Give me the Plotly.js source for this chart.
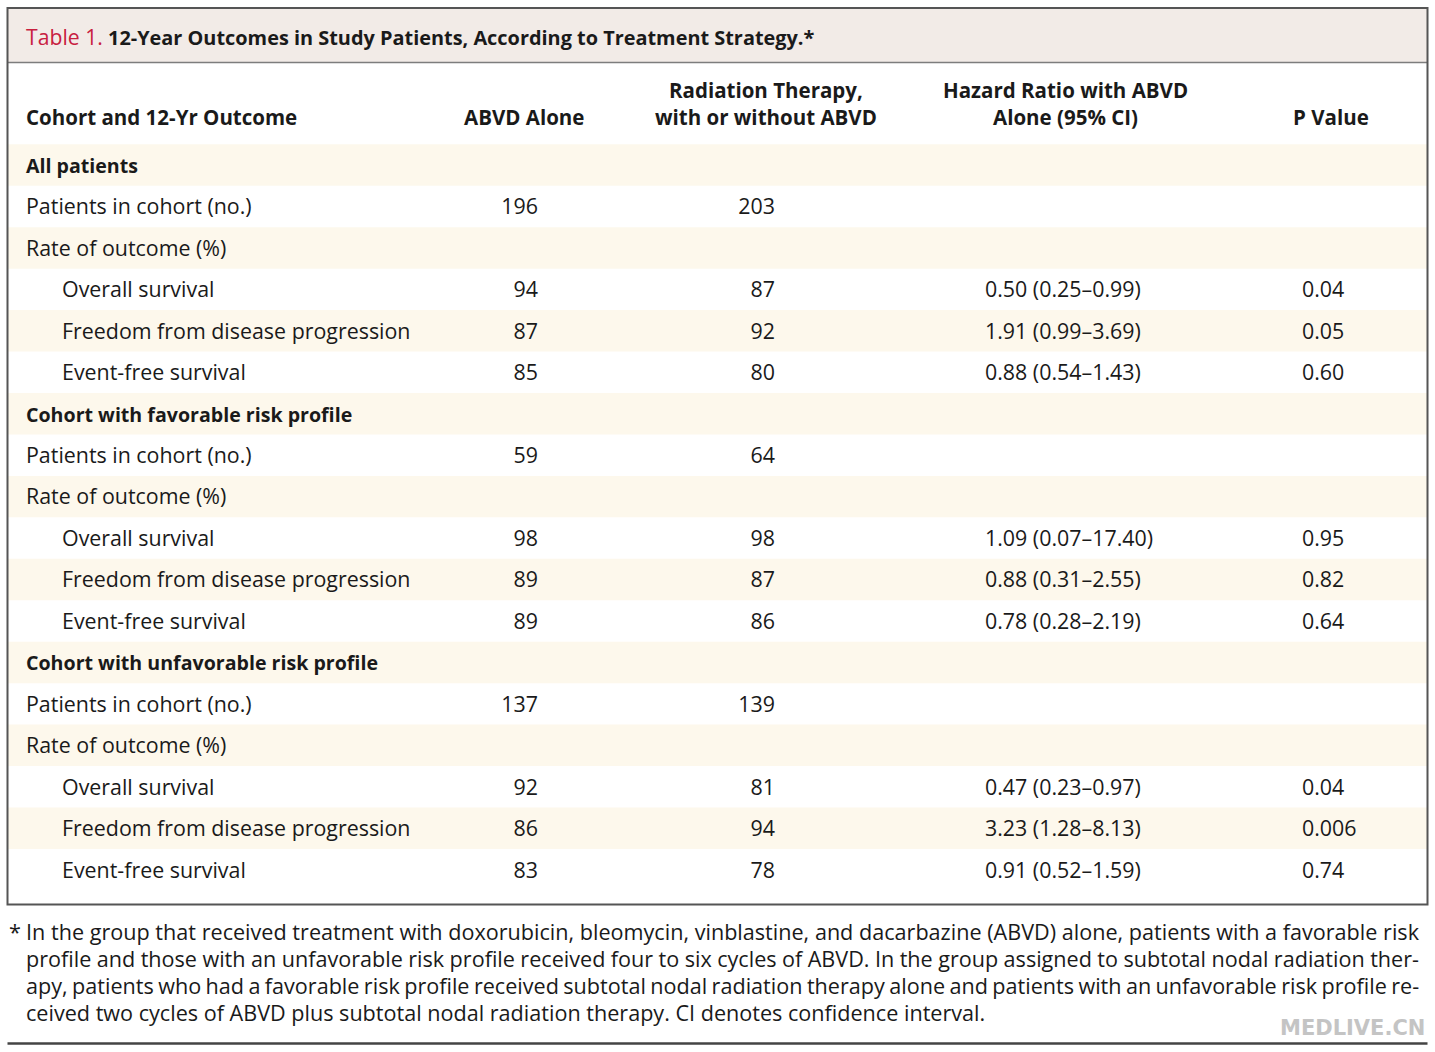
<!DOCTYPE html>
<html>
<head>
<meta charset="utf-8">
<script src="https://cdn.plot.ly/plotly-3.0.1.min.js"></script>
<style>
  html, body { margin: 0; padding: 0; background: #ffffff; }
  #chart { width: 1435px; height: 1052px; }
</style>
</head>
<body>
<div id="chart"></div>
<script>
// ---------------- DATA ----------------
const tableTitleLabel = "Table 1.";
const tableTitleText = "12-Year Outcomes in Study Patients, According to Treatment Strategy.*";

const columnHeaders = [
  "Cohort and 12-Yr Outcome",
  "ABVD Alone",
  "Radiation Therapy,<br>with or without ABVD",
  "Hazard Ratio with ABVD<br>Alone (95% CI)",
  "P Value"
];

const rowLabels = [
  "All patients",
  "Patients in cohort (no.)",
  "Rate of outcome (%)",
  "Overall survival",
  "Freedom from disease progression",
  "Event-free survival",
  "Cohort with favorable risk profile",
  "Patients in cohort (no.)",
  "Rate of outcome (%)",
  "Overall survival",
  "Freedom from disease progression",
  "Event-free survival",
  "Cohort with unfavorable risk profile",
  "Patients in cohort (no.)",
  "Rate of outcome (%)",
  "Overall survival",
  "Freedom from disease progression",
  "Event-free survival"
];
// 0 = cohort heading (bold), 1 = sub-heading, 2 = indented outcome
const rowLevels = [0, 1, 1, 2, 2, 2, 0, 1, 1, 2, 2, 2, 0, 1, 1, 2, 2, 2];

const abvdAlone = [null, 196, null, 94, 87, 85, null, 59, null, 98, 89, 89, null, 137, null, 92, 86, 83];
const radiationTherapy = [null, 203, null, 87, 92, 80, null, 64, null, 98, 87, 86, null, 139, null, 81, 94, 78];
const hazardRatio = ["", "", "", "0.50 (0.25–0.99)", "1.91 (0.99–3.69)", "0.88 (0.54–1.43)",
                     "", "", "", "1.09 (0.07–17.40)", "0.88 (0.31–2.55)", "0.78 (0.28–2.19)",
                     "", "", "", "0.47 (0.23–0.97)", "3.23 (1.28–8.13)", "0.91 (0.52–1.59)"];
const pValue = ["", "", "", "0.04", "0.05", "0.60",
                "", "", "", "0.95", "0.82", "0.64",
                "", "", "", "0.04", "0.006", "0.74"];

const footnoteMark = "*";
const footnoteLines = [
  "In the group that received treatment with doxorubicin, bleomycin, vinblastine, and dacarbazine (ABVD) alone, patients with a favorable risk",
  "profile and those with an unfavorable risk profile received four to six cycles of ABVD. In the group assigned to subtotal nodal radiation ther-",
  "apy, patients who had a favorable risk profile received subtotal nodal radiation therapy alone and patients with an unfavorable risk profile re-",
  "ceived two cycles of ABVD plus subtotal nodal radiation therapy. CI denotes confidence interval."
];
const watermark = "MEDLIVE.CN";

// ---------------- LAYOUT CONSTANTS ----------------
const W = 1435, H = 1052;
const FONT = "'Open Sans', 'DejaVu Sans', sans-serif";
const bodySize = 21.4, groupSize = 19.6, headSize = 20.5, titleSize = 19.9, titleLabelSize = 21.2, footSize = 21.6;
const INK = "#1a1a1a";
const STRIPE = "#fdf8ec";
const TITLE_BG = "#f2ebe7";
const TITLE_RED = "#c8203f";

const boxLeft = 7.5, boxRight = 1427.5, boxTop = 8, boxBottom = 904.5;
const titleBottom = 62.5;
const rowTop = 144.3, rowH = 41.45;
const labelX = [26, 26, 62];            // per level
const abvdRightX = 538, radRightX = 775, hrLeftX = 985, pLeftX = 1302;
const headX = [26, 523.5, 765.5, 1065.5, 1330.5];
const textNudge = 2.5 / rowH;           // baseline correction (row units)

const py = p => 1 - p / H;               // pixel -> paper y
const rowIdx = rowLabels.map((_, i) => i);
const yTopVal = (0 - rowTop) / rowH - 0.5;
const yBotVal = (H - rowTop) / rowH - 0.5;
const tY = rowIdx.map(i => i + textNudge);

// ---------------- TRACES ----------------
const txtFont = { family: FONT, size: bodySize, color: INK };
const traces = [
  {
    type: "scatter", mode: "text", name: "label",
    x: rowLevels.map(l => labelX[l]), y: tY,
    text: rowLabels.map((t, i) => rowLevels[i] === 0
      ? "<span style='font-size:" + groupSize + "px'><b>" + t + "</b></span>" : t),
    textposition: "middle right", textfont: txtFont, hoverinfo: "skip", cliponaxis: false
  },
  {
    type: "scatter", mode: "text", name: "ABVD Alone",
    x: rowIdx.map(() => abvdRightX), y: tY,
    text: abvdAlone.map(v => v === null ? "" : String(v)),
    textposition: "middle left", textfont: txtFont, hoverinfo: "skip", cliponaxis: false
  },
  {
    type: "scatter", mode: "text", name: "Radiation Therapy",
    x: rowIdx.map(() => radRightX), y: tY,
    text: radiationTherapy.map(v => v === null ? "" : String(v)),
    textposition: "middle left", textfont: txtFont, hoverinfo: "skip", cliponaxis: false
  },
  {
    type: "scatter", mode: "text", name: "Hazard Ratio",
    x: rowIdx.map(() => hrLeftX), y: tY,
    text: hazardRatio,
    textposition: "middle right", textfont: txtFont, hoverinfo: "skip", cliponaxis: false
  },
  {
    type: "scatter", mode: "text", name: "P Value",
    x: rowIdx.map(() => pLeftX), y: tY,
    text: pValue,
    textposition: "middle right", textfont: txtFont, hoverinfo: "skip", cliponaxis: false
  }
];

// ---------------- SHAPES ----------------
const shapes = [];
shapes.push({ type: "rect", xref: "x", yref: "paper", x0: boxLeft, x1: boxRight, y0: py(titleBottom), y1: py(boxTop),
  fillcolor: TITLE_BG, line: { width: 0 }, layer: "below" });
rowIdx.forEach(i => {
  if (i % 2 === 0) {
    shapes.push({ type: "rect", xref: "x", yref: "y", x0: boxLeft, x1: boxRight, y0: i - 0.5, y1: i + 0.5,
      fillcolor: STRIPE, line: { width: 0 }, layer: "below" });
  }
});
shapes.push({ type: "line", xref: "x", yref: "paper", x0: boxLeft, x1: boxRight, y0: py(titleBottom), y1: py(titleBottom),
  line: { color: "#7d7d7d", width: 1.5 } });
shapes.push({ type: "rect", xref: "x", yref: "paper", x0: boxLeft, x1: boxRight, y0: py(boxBottom), y1: py(boxTop),
  line: { color: "#555555", width: 2 }, fillcolor: "rgba(0,0,0,0)" });
shapes.push({ type: "line", xref: "x", yref: "paper", x0: boxLeft, x1: boxRight, y0: py(1043.5), y1: py(1043.5),
  line: { color: "#444444", width: 2.5 } });

// ---------------- ANNOTATIONS ----------------
const annBase = { xref: "x", yref: "paper", showarrow: false, borderpad: 0, borderwidth: 0 };
const annotations = [];
annotations.push(Object.assign({}, annBase, {
  x: 26, y: py(36.5), xanchor: "left", yanchor: "middle",
  text: "<span style='color:" + TITLE_RED + ";font-size:" + titleLabelSize + "px'>" + tableTitleLabel +
        "</span> <b>" + tableTitleText + "</b>",
  font: { family: FONT, size: titleSize, color: INK }
}));
columnHeaders.forEach((h, c) => {
  const twoLine = h.indexOf("<br>") >= 0;
  annotations.push(Object.assign({}, annBase, {
    x: headX[c], y: py(twoLine ? 104 : 117.5),
    xanchor: c === 0 ? "left" : "center", yanchor: "middle", align: c === 0 ? "left" : "center",
    text: "<b>" + h + "</b>",
    font: { family: FONT, size: headSize, color: INK }
  }));
});

// footnote: justify the non-final lines via word-spacing measured on a canvas
const cvs = document.createElement("canvas").getContext("2d");
cvs.font = footSize + "px 'Open Sans'";
const footRight = 1419, footLeft = 26;
const footY = [931, 958, 985, 1012];
annotations.push(Object.assign({}, annBase, {
  x: 9, y: py(footY[0]), xanchor: "left", yanchor: "middle",
  text: footnoteMark, font: { family: FONT, size: footSize, color: INK }
}));
footnoteLines.forEach((line, k) => {
  let txt = line;
  if (k < footnoteLines.length - 1) {
    const natural = cvs.measureText(line).width;
    const spaces = (line.match(/ /g) || []).length;
    const ws = (footRight - footLeft - natural) / spaces;
    txt = "<span style='word-spacing:" + ws.toFixed(2) + "px'>" + line + "</span>";
  }
  annotations.push(Object.assign({}, annBase, {
    x: footLeft, y: py(footY[k]), xanchor: "left", yanchor: "middle",
    text: txt, font: { family: FONT, size: footSize, color: INK }
  }));
});
annotations.push(Object.assign({}, annBase, {
  x: 1425, y: py(1028), xanchor: "right", yanchor: "middle",
  text: "<b>" + watermark + "</b>", font: { family: "'DejaVu Sans', sans-serif", size: 21, color: "#c4c4c4" }
}));

const layout = {
  width: W, height: H,
  margin: { l: 0, r: 0, t: 0, b: 0, pad: 0 },
  paper_bgcolor: "#ffffff", plot_bgcolor: "#ffffff",
  showlegend: false, hovermode: false,
  xaxis: { range: [0, W], visible: false, fixedrange: true },
  yaxis: { range: [yBotVal, yTopVal], visible: false, fixedrange: true },
  shapes: shapes, annotations: annotations
};

Plotly.newPlot("chart", traces, layout, { staticPlot: true, displayModeBar: false });
</script>
</body>
</html>
